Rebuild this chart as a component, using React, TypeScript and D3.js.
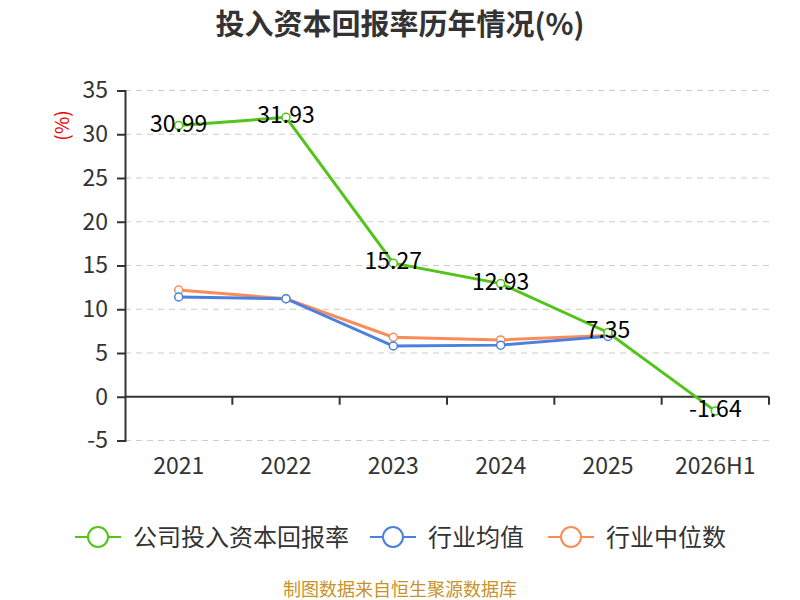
import React, { useEffect, useRef } from 'react';
import * as d3 from 'd3';

const years = ['2021', '2022', '2023', '2024', '2025', '2026H1'];
const companyRoic = [30.99, 31.93, 15.27, 12.93, 7.35, -1.64];
const industryAvg = [11.4, 11.2, 5.8, 5.9, 6.9, null];
const industryMedian = [12.2, 11.2, 6.8, 6.5, 7.0, null];
const yTicks = [-5, 0, 5, 10, 15, 20, 25, 30, 35];

const seriesInfo = [
  { name: '公司投入资本回报率', color: '#52c41a', values: companyRoic },
  { name: '行业均值', color: '#4a80e0', values: industryAvg },
  { name: '行业中位数', color: '#fa8c5a', values: industryMedian },
];

const FONT = '"Noto Sans CJK SC", "Noto Sans", sans-serif';

const App: React.FC = () => {
  const ref = useRef<SVGSVGElement>(null);

  useEffect(() => {
    if (!ref.current) return;
    const svg = d3.select(ref.current);
    svg.selectAll('*').remove();

    const left = 125, right = 769, top = 90.5, bottom = 440.5;

    const x = d3.scaleBand<string>().domain(years).range([left, right]);
    const y = d3.scaleLinear().domain([-5, 35]).range([bottom, top]);

    // Title
    svg.append('text')
      .attr('x', 400).attr('y', 35)
      .attr('text-anchor', 'middle')
      .attr('font-size', 29).attr('font-weight', 'bold')
      .attr('fill', '#333').attr('font-family', FONT)
      .text('投入资本回报率历年情况(%)');

    // grid lines
    svg.append('g')
      .selectAll('line')
      .data(yTicks.filter(t => t !== 0))
      .enter().append('line')
      .attr('x1', left).attr('x2', right)
      .attr('y1', d => y(d)).attr('y2', d => y(d))
      .attr('stroke', '#ccc').attr('stroke-width', 1.2)
      .attr('stroke-dasharray', '6,5');

    // y axis
    const yAxis = svg.append('g')
      .attr('transform', `translate(${left},0)`)
      .call(d3.axisLeft(y).tickValues(yTicks).tickFormat(d => String(d)).tickSize(8).tickPadding(9));
    yAxis.select('.domain').attr('stroke', '#333').attr('stroke-width', 2);
    yAxis.selectAll('line').attr('stroke', '#333').attr('stroke-width', 2);
    yAxis.selectAll('text')
      .attr('font-size', 23).attr('fill', '#333').attr('font-family', FONT);

    // unit label
    svg.append('text')
      .attr('transform', `translate(69,${y(31)}) rotate(-90)`)
      .attr('text-anchor', 'middle')
      .attr('font-size', 19).attr('fill', '#e00').attr('font-family', FONT)
      .text('(%)');

    // x axis at zero
    const xAxis = svg.append('g')
      .attr('transform', `translate(0,${y(0)})`);
    xAxis.append('line')
      .attr('x1', left).attr('x2', right)
      .attr('stroke', '#333').attr('stroke-width', 2);
    xAxis.selectAll('.tk')
      .data(years)
      .enter().append('line')
      .attr('x1', d => (x(d) as number) + x.bandwidth())
      .attr('x2', d => (x(d) as number) + x.bandwidth())
      .attr('y1', 0).attr('y2', 8)
      .attr('stroke', '#333').attr('stroke-width', 2);

    svg.append('g')
      .selectAll('text')
      .data(years)
      .enter().append('text')
      .attr('x', d => (x(d) as number) + x.bandwidth() / 2)
      .attr('y', 474)
      .attr('text-anchor', 'middle')
      .attr('font-size', 23).attr('fill', '#333').attr('font-family', FONT)
      .text(d => d);

    // series
    const cx = (i: number) => (x(years[i]) as number) + x.bandwidth() / 2;
    const line = d3.line<number | null>()
      .defined(d => d !== null)
      .x((_, i) => cx(i))
      .y(d => y(d as number));

    seriesInfo.slice().reverse().forEach(s => {
      svg.append('path')
        .datum(s.values as (number | null)[])
        .attr('fill', 'none')
        .attr('stroke', s.color)
        .attr('stroke-width', 3)
        .attr('d', line);
    });

    seriesInfo.slice().reverse().forEach(s => {
      const pts = (s.values as (number | null)[])
        .map((v, i) => ({ v, i }))
        .filter(p => p.v !== null);
      svg.append('g')
        .selectAll('circle')
        .data(pts)
        .enter().append('circle')
        .attr('cx', p => cx(p.i))
        .attr('cy', p => y(p.v as number))
        .attr('r', 4)
        .attr('fill', '#fff')
        .attr('stroke', s.color)
        .attr('stroke-width', 1.5);
    });

    // company labels
    svg.append('g')
      .selectAll('text')
      .data(companyRoic)
      .enter().append('text')
      .attr('x', (_, i) => cx(i))
      .attr('y', d => y(d) + 6)
      .attr('text-anchor', 'middle')
      .attr('font-size', 23).attr('fill', '#000').attr('font-family', FONT)
      .text(d => d.toFixed(2));

    // legend
    const legendX = [75, 370, 548];
    seriesInfo.forEach((s, i) => {
      const g = svg.append('g').attr('transform', `translate(${legendX[i]},537)`);
      g.append('line')
        .attr('x1', 0).attr('x2', 46)
        .attr('stroke', s.color).attr('stroke-width', 2);
      g.append('circle')
        .attr('cx', 23).attr('r', 10)
        .attr('fill', '#fff').attr('stroke', s.color).attr('stroke-width', 2);
      g.append('text')
        .attr('x', 58).attr('y', 9)
        .attr('font-size', 24).attr('fill', '#333').attr('font-family', FONT)
        .text(s.name);
    });

    // source
    svg.append('text')
      .attr('x', 400).attr('y', 596)
      .attr('text-anchor', 'middle')
      .attr('font-size', 18).attr('fill', '#c8922a').attr('font-family', FONT)
      .text('制图数据来自恒生聚源数据库');
  }, []);

  return (
    <svg
      ref={ref}
      width={800}
      height={600}
      style={{ position: 'absolute', left: 0, top: 0, background: '#fff' }}
    />
  );
};

export default App;
